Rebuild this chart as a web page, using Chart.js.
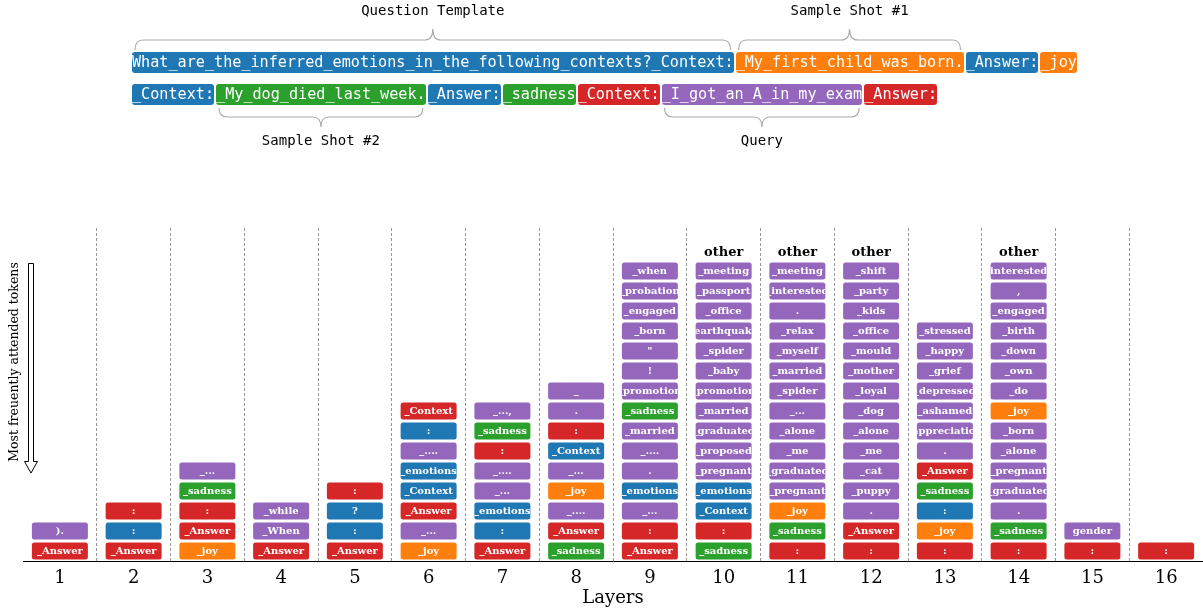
<!DOCTYPE html>
<html lang="en">
<head>
<meta charset="UTF-8">
<title>Most frequently attended tokens per layer</title>
<style>
  body { margin: 0; background: #fff; }
  #wrap { position: relative; width: 1203px; height: 612px; overflow: hidden; }
  #c { position: absolute; left: 0; top: 0; }
  .row { position: absolute; left: 132px; display: flex; gap: 2px; height: 21px; }
  .tok { font: 15.15px 'DejaVu Sans Mono', monospace; color: #fff; line-height: 21px; padding: 0; border-radius: 3px; white-space: pre; }
  .lbl { position: absolute; font: 14px 'DejaVu Sans Mono', monospace; color: #000; transform: translate(-50%, -50%); white-space: nowrap; }
  #braces { position: absolute; left: 0; top: 0; }
</style>
</head>
<body>
<div id="wrap">
  <canvas id="c" width="1203" height="612"></canvas>
  <svg id="braces" width="1203" height="160"></svg>
  <div class="row" id="row1" style="top:52px"></div>
  <div class="row" id="row2" style="top:84px"></div>
</div>

<script src="https://cdn.jsdelivr.net/npm/chart.js"></script>
<script>
  // prompt tokens (top panel)
  const promptRow1 = ['What_are_the_inferred_emotions_in_the_following_contexts?_Context:', '_My_first_child_was_born.', '_Answer:', '_joy'];
  const promptRow1Groups = ['t', 's1', 't', 's1'];
  const promptRow2 = ['_Context:', '_My_dog_died_last_week.', '_Answer:', '_sadness', '_Context:', '_I_got_an_A_in_my_exam', '_Answer:'];
  const promptRow2Groups = ['t', 's2', 't', 's2', 'q', 'p', 'q'];

  // layers and attended tokens, bottom of each stack first
  const layers = ['1', '2', '3', '4', '5', '6', '7', '8', '9', '10', '11', '12', '13', '14', '15', '16'];
  const tokens = [
    ['_Answer', ').'],
    ['_Answer', ':', ':'],
    ['_joy', '_Answer', ':', '_sadness', '_...'],
    ['_Answer', '_When', '_while'],
    ['_Answer', ':', '?', ':'],
    ['_joy', '_...', '_Answer', '_Context', '_emotions', '_....', ':', '_Context'],
    ['_Answer', ':', '_emotions', '_...', '_....', ':', '_sadness', '_...,'],
    ['_sadness', '_Answer', '_....', '_joy', '_...', '_Context', ':', '.', '_'],
    ['_Answer', ':', '_...', '_emotions', '.', '_....', '_married', '_sadness', '_promotion', '!', '"', '_born', '_engaged', '_probation', '_when'],
    ['_sadness', ':', '_Context', '_emotions', '_pregnant', '_proposed', '_graduated', '_married', '_promotion', '_baby', '_spider', '_earthquake', '_office', '_passport', '_meeting'],
    [':', '_sadness', '_joy', '_pregnant', '_graduated', '_me', '_alone', '_...', '_spider', '_married', '_myself', '_relax', '.', '_interested', '_meeting'],
    [':', '_Answer', '.', '_puppy', '_cat', '_me', '_alone', '_dog', '_loyal', '_mother', '_mould', '_office', '_kids', '_party', '_shift'],
    [':', '_joy', ':', '_sadness', '_Answer', '.', '_appreciation', '_ashamed', '_depressed', '_grief', '_happy', '_stressed'],
    [':', '_sadness', '.', '_graduated', '_pregnant', '_alone', '_born', '_joy', '_do', '_own', '_down', '_birth', '_engaged', ',', 'interested'],
    [':', 'gender'],
    [':']
  ];
  // t = question template, s1 = shot #1, s2 = shot #2, q = query markers, p = other
  const groups = [
    ['q', 'p'],
    ['q', 't', 'q'],
    ['s1', 'q', 'q', 's2', 'p'],
    ['q', 'p', 'p'],
    ['q', 't', 't', 'q'],
    ['s1', 'p', 'q', 't', 't', 'p', 't', 'q'],
    ['q', 't', 't', 'p', 'p', 'q', 's2', 'p'],
    ['s2', 'q', 'p', 's1', 'p', 't', 'q', 'p', 'p'],
    ['q', 'q', 'p', 't', 'p', 'p', 'p', 's2', 'p', 'p', 'p', 'p', 'p', 'p', 'p'],
    ['s2', 'q', 't', 't', 'p', 'p', 'p', 'p', 'p', 'p', 'p', 'p', 'p', 'p', 'p'],
    ['q', 's2', 's1', 'p', 'p', 'p', 'p', 'p', 'p', 'p', 'p', 'p', 'p', 'p', 'p'],
    ['q', 'q', 'p', 'p', 'p', 'p', 'p', 'p', 'p', 'p', 'p', 'p', 'p', 'p', 'p'],
    ['q', 's1', 't', 's2', 'q', 'p', 'p', 'p', 'p', 'p', 'p', 'p'],
    ['q', 's2', 'p', 'p', 'p', 'p', 'p', 's1', 'p', 'p', 'p', 'p', 'p', 'p', 'p'],
    ['q', 'p'],
    ['q']
  ];
  const layersWithOther = ['10', '11', '12', '14'];

  const groupColors = { t: '#1f77b4', s1: '#ff7f0e', s2: '#2ca02c', q: '#d62728', p: '#9467bd' };

  // ---- top panel: prompt tokens + braces ----
  function fillRow(id, texts, grps) {
    const row = document.getElementById(id);
    return texts.map((t, i) => {
      const s = document.createElement('span');
      s.className = 'tok';
      s.textContent = t;
      s.style.background = groupColors[grps[i]];
      row.appendChild(s);
      return s;
    });
  }
  const r1 = fillRow('row1', promptRow1, promptRow1Groups);
  const r2 = fillRow('row2', promptRow2, promptRow2Groups);

  const svg = document.getElementById('braces');
  const wrap = document.getElementById('wrap');
  function brace(span, text, above) {
    const b = span.getBoundingClientRect();
    const x0 = b.left + 3, x1 = b.right - 3, cx = (x0 + x1) / 2;
    const yEnd = above ? b.top - 2 : b.bottom + 3;
    const yMid = above ? b.top - 12 : b.bottom + 12;
    const yTip = above ? b.top - 23 : b.bottom + 22;
    const r = 8;
    const d = `M${x0},${yEnd} Q${x0},${yMid} ${x0 + r},${yMid} L${cx - r},${yMid} Q${cx},${yMid} ${cx},${yTip} ` +
              `Q${cx},${yMid} ${cx + r},${yMid} L${x1 - r},${yMid} Q${x1},${yMid} ${x1},${yEnd}`;
    const p = document.createElementNS('http://www.w3.org/2000/svg', 'path');
    p.setAttribute('d', d);
    p.setAttribute('fill', 'none');
    p.setAttribute('stroke', '#aaa');
    p.setAttribute('stroke-width', '1.2');
    svg.appendChild(p);
    const l = document.createElement('div');
    l.className = 'lbl';
    l.textContent = text;
    l.style.left = cx + 'px';
    l.style.top = (above ? 10 : 140) + 'px';
    wrap.appendChild(l);
  }
  brace(r1[0], 'Question Template', true);
  brace(r1[1], 'Sample Shot #1', true);
  brace(r2[1], 'Sample Shot #2', false);
  brace(r2[5], 'Query', false);

  // ---- token stacks ----
  const maxSlots = Math.max(...tokens.map(t => t.length));
  const datasets = [];
  for (let s = 0; s < maxSlots; s++) {
    datasets.push({
      data: tokens.map(col => s < col.length ? 1 : null),
      backgroundColor: groups.map(col => groupColors[col[s]] || 'rgba(0,0,0,0)'),
      borderColor: '#fff',
      borderWidth: 1.5,
      borderSkipped: false,
      borderRadius: { topLeft: 4, topRight: 4, bottomLeft: 4, bottomRight: 4 },
      barPercentage: 0.8,
      categoryPercentage: 1,
      stack: 'tok'
    });
  }

  const tokenLabels = {
    id: 'tokenLabels',
    afterDatasetsDraw(chart) {
      const ctx = chart.ctx;
      ctx.save();
      ctx.font = 'bold 10px "DejaVu Serif"';
      ctx.fillStyle = '#fff';
      ctx.textAlign = 'center';
      ctx.textBaseline = 'middle';
      chart.data.datasets.forEach((ds, s) => {
        chart.getDatasetMeta(s).data.forEach((bar, L) => {
          const txt = tokens[L][s];
          if (txt === undefined) return;
          const { x, y, base, width } = bar.getProps(['x', 'y', 'base', 'width'], true);
          ctx.save();
          ctx.beginPath();
          ctx.rect(x - width / 2 + 1.5, Math.min(y, base), width - 3, Math.abs(base - y));
          ctx.clip();
          ctx.fillText(txt, x, (y + base) / 2 + 0.5);
          ctx.restore();
        });
      });
      // "other" marks above truncated stacks
      ctx.fillStyle = '#000';
      ctx.font = 'bold 13px "DejaVu Serif"';
      layersWithOther.forEach(l => {
        ctx.fillText('other', chart.scales.x.getPixelForValue(layers.indexOf(l)), 253);
      });
      ctx.restore();
    },
    afterDraw(chart) {
      const ctx = chart.ctx;
      ctx.save();
      // y label
      ctx.translate(15, 362);
      ctx.rotate(-Math.PI / 2);
      ctx.font = '12.5px "DejaVu Serif"';
      ctx.fillStyle = '#000';
      ctx.textAlign = 'center';
      ctx.textBaseline = 'middle';
      ctx.fillText('Most freuently attended tokens', 0, 0);
      ctx.restore();
      // hollow arrow
      ctx.save();
      ctx.beginPath();
      ctx.moveTo(28.5, 263.5);
      ctx.lineTo(33.5, 263.5);
      ctx.lineTo(33.5, 461.5);
      ctx.lineTo(37.5, 461.5);
      ctx.lineTo(31, 473);
      ctx.lineTo(24.5, 461.5);
      ctx.lineTo(28.5, 461.5);
      ctx.closePath();
      ctx.fillStyle = '#fff';
      ctx.fill();
      ctx.strokeStyle = '#000';
      ctx.lineWidth = 1;
      ctx.stroke();
      ctx.restore();
    }
  };

  new Chart(document.getElementById('c'), {
    type: 'bar',
    data: { labels: layers, datasets: datasets },
    options: {
      responsive: false,
      animation: false,
      devicePixelRatio: 1,
      layout: { padding: { top: 228, left: 23, right: 0, bottom: 3 } },
      plugins: { legend: { display: false }, tooltip: { enabled: false } },
      scales: {
        x: {
          stacked: true,
          afterFit: s => { s.height = 48; },
          grid: {
            color: c => (c.index === 0 || c.index === layers.length) ? 'rgba(0,0,0,0)' : '#999',
            lineWidth: 1,
            drawTicks: false
          },
          border: { color: '#000', width: 1, dash: [3, 2] },
          ticks: { color: '#000', padding: 7, font: { family: 'DejaVu Serif', size: 18 } },
          title: { display: true, text: 'Layers', color: '#000', padding: 0, font: { family: 'DejaVu Serif', size: 18 } }
        },
        y: { stacked: true, display: false, min: 0, max: 16.65 }
      }
    },
    plugins: [tokenLabels]
  });
</script>
</body>
</html>
